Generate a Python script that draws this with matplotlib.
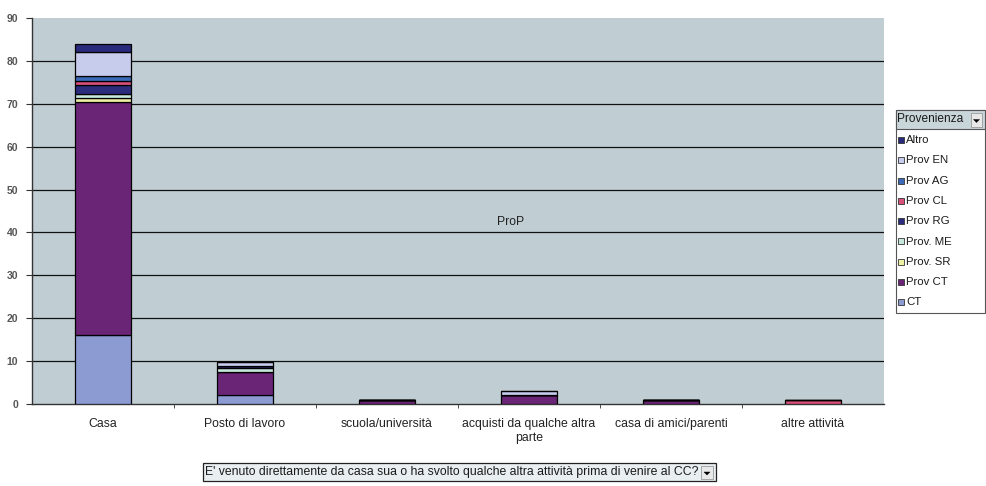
import matplotlib
matplotlib.use("Agg")
import matplotlib.pyplot as plt
from matplotlib.patches import Rectangle, Polygon
import numpy as np

plt.rcParams['font.family'] = ['Liberation Sans', 'DejaVu Sans']

# categorie sull'asse x
categorie = ["Casa", "Posto di lavoro", "scuola/università",
             "acquisti da qualche altra\nparte", "casa di amici/parenti",
             "altre attività"]

# serie (in ordine di impilamento dal basso)
serie = ["CT", "Prov CT", "Prov. SR", "Prov. ME", "Prov RG",
         "Prov CL", "Prov AG", "Prov EN", "Altro"]

CT      = [16.1, 2.1, 0.0, 0.0, 0.0, 0.0]
Prov_CT = [54.2, 5.4, 1.0, 2.1, 0.9, 0.0]
Prov_SR = [1.0, 0.0, 0.0, 0.0, 0.0, 0.0]
Prov_ME = [0.9, 0.8, 0.0, 0.0, 0.0, 0.0]
Prov_RG = [2.1, 0.5, 0.0, 0.0, 0.0, 0.0]
Prov_CL = [0.9, 0.0, 0.0, 0.0, 0.0, 0.9]
Prov_AG = [1.2, 0.0, 0.0, 0.0, 0.0, 0.0]
Prov_EN = [5.6, 0.9, 0.0, 0.9, 0.0, 0.0]
Altro   = [2.0, 0.0, 0.0, 0.0, 0.0, 0.0]

valori = [CT, Prov_CT, Prov_SR, Prov_ME, Prov_RG, Prov_CL, Prov_AG, Prov_EN, Altro]
colori = ["#8d9bd3", "#6b2576", "#eef0a4", "#c6e8dc", "#2c2c7e",
          "#d9507b", "#3b6bb8", "#c8ccec", "#2a2a7c"]

W, H = 986, 486
fig = plt.figure(figsize=(W / 100, H / 100), dpi=100)
fig.patch.set_facecolor("white")

# area del grafico in pixel
x0, x1, ytop, ybot = 32, 884, 18, 404
ax = fig.add_axes([x0 / W, (H - ybot) / H, (x1 - x0) / W, (ybot - ytop) / H])
ax.set_facecolor("#c0ced3")

x = np.arange(len(categorie))
base = np.zeros(len(categorie))
for nome, v, c in zip(serie, valori, colori):
    v = np.array(v)
    ax.bar(x, v, 0.4, bottom=base, color=c, edgecolor="black",
           linewidth=0.9, zorder=3, label=nome)
    base += v

ax.set_xlim(-0.5, len(categorie) - 0.5)
ax.set_ylim(0, 90)
ax.set_yticks(np.arange(0, 91, 10))
for yv in range(10, 90, 10):
    ax.axhline(yv, color="#101010", linewidth=0.9, zorder=1)

ax.set_xticks(x)
ax.set_xticklabels(categorie, fontsize=8.8, color="#222222", linespacing=1.25)
ax.set_xticks(np.arange(0.5, len(categorie) - 0.5, 1), minor=True)
ax.tick_params(axis="x", which="major", length=0, pad=10)
ax.tick_params(axis="x", which="minor", length=3, direction="out", color="#333333")
ax.tick_params(axis="y", length=4, direction="out", color="#333333",
               labelsize=7.5, labelcolor="#555555", pad=6)
for lab in ax.get_yticklabels():
    lab.set_fontweight("bold")
for s in ["top", "right"]:
    ax.spines[s].set_visible(False)
for s in ["left", "bottom"]:
    ax.spines[s].set_color("#333333")
    ax.spines[s].set_linewidth(1.0)

ax.text(2.87, 42.4, "ProP", ha="center", va="center", fontsize=8.8,
        color="#222222", zorder=4)


def px(xp, yp):
    return xp / W, (H - yp) / H


def menu_button(xl, yt, w, h):
    # pulsante a tendina in stile tabella pivot
    fig.patches.append(Rectangle(px(xl, yt + h), w / W, h / H, transform=fig.transFigure,
                                 facecolor="#e8e8e8", edgecolor="#9a9a9a", linewidth=0.6))
    cx, cy = xl + w / 2, yt + h / 2 + 1
    tri = [px(cx - 3, cy - 1.5), px(cx + 3, cy - 1.5), px(cx, cy + 1.5)]
    fig.patches.append(Polygon(tri, closed=True, transform=fig.transFigure,
                               facecolor="black", edgecolor="black", linewidth=0.3))


# legenda
lx, lt, lr, lb = 896, 110, 985, 313
fig.patches.append(Rectangle(px(lx, lb), (lr - lx) / W, (lb - lt) / H, transform=fig.transFigure,
                             facecolor="white", edgecolor="#555555", linewidth=0.8))
fig.patches.append(Rectangle(px(lx, lt + 19), (lr - lx) / W, 19 / H, transform=fig.transFigure,
                             facecolor="#c9d6d9", edgecolor="#555555", linewidth=0.8))
fig.text(*px(lx + 1, lt + 9.5), "Provenienza", fontsize=8.6, va="center", color="#1a1a1a")
menu_button(lr - 14, lt + 3, 11, 14)

for i, (nome, c) in enumerate(zip(serie[::-1], colori[::-1])):
    yc = 140 + i * 20.3
    fig.patches.append(Rectangle(px(898, yc + 3), 6 / W, 6 / H, transform=fig.transFigure,
                                 facecolor=c, edgecolor="#333333", linewidth=0.6))
    fig.text(*px(906, yc), nome, fontsize=8.2, va="center", color="#1a1a1a")

# campo sotto l'asse x
bx, bt, br, bb = 203, 463, 716, 481
fig.patches.append(Rectangle(px(bx, bb), (br - bx) / W, (bb - bt) / H, transform=fig.transFigure,
                             facecolor="#e9eef0", edgecolor="#222222", linewidth=0.9))
fig.text(*px(bx + 2, (bt + bb) / 2),
         "E' venuto direttamente da casa sua o ha svolto qualche altra attività prima di venire al CC?",
         fontsize=8.8, va="center", color="#1a1a1a")
menu_button(br - 15, bt + 3, 12, 13)

fig.savefig("out.png", dpi=100, facecolor="white")
